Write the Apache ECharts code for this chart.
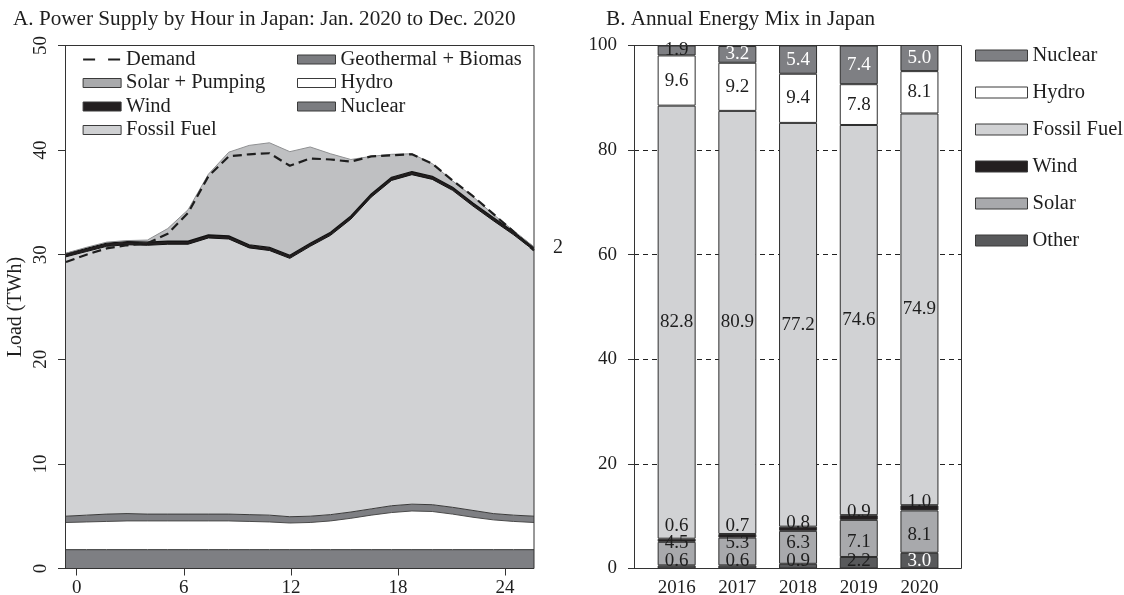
<!DOCTYPE html>
<html>
<head>
<meta charset="utf-8">
<script src="https://cdn.jsdelivr.net/npm/echarts@6/dist/echarts.min.js"></script>
<style>
  html, body { margin: 0; padding: 0; background: #fff; }
  #chart { width: 1124px; height: 595px; }
</style>
</head>
<body>
<div id="chart"></div>
<script>
// ---- Panel A: hourly power supply (TWh), 24 hourly slots ----
const hourSlots = ['1','2','3','4','5','6','7','8','9','10','11','12',
                   '13','14','15','16','17','18','19','20','21','22','23','24'];
const hourTicks = [0, 6, 12, 18, 24];
const loadTicks = [0, 10, 20, 30, 40, 50];

const nuclearHourly = [1.8,1.8,1.8,1.8,1.8,1.8,1.8,1.8,1.8,1.8,1.8,1.8,
                       1.8,1.8,1.8,1.8,1.8,1.8,1.8,1.8,1.8,1.8,1.8,1.8];
const hydroHourly   = [2.6,2.65,2.7,2.75,2.75,2.75,2.75,2.75,2.75,2.7,2.65,2.55,
                       2.6,2.75,3.0,3.3,3.55,3.7,3.65,3.4,3.1,2.85,2.7,2.6];
const geoBioHourly  = [0.6,0.65,0.7,0.7,0.65,0.65,0.65,0.65,0.65,0.65,0.65,0.6,
                       0.6,0.6,0.6,0.6,0.65,0.65,0.65,0.65,0.65,0.6,0.6,0.6];
const fossilHourly  = [24.8,25.2,25.6,25.7,25.7,25.8,25.8,26.4,26.3,25.5,25.3,24.7,
                       25.8,26.7,28.0,29.8,31.1,31.5,31.1,30.3,29.1,28.0,26.8,25.4];
const windHourly    = [0.3,0.3,0.3,0.3,0.3,0.3,0.3,0.3,0.3,0.3,0.3,0.3,
                       0.3,0.3,0.3,0.3,0.3,0.3,0.3,0.3,0.3,0.3,0.3,0.3];
const solarPumpHourly = [0.05,0.1,0.1,0.1,0.2,1.2,3.0,5.8,8.0,9.5,10.0,9.9,
                         9.2,7.5,5.4,3.6,2.2,1.7,1.2,0.6,0.6,0.3,0.1,0.05];
const demandHourly  = [29.3,30.0,30.6,30.9,31.1,32.0,34.0,37.5,39.4,39.6,39.7,38.5,
                       39.2,39.1,38.9,39.4,39.5,39.6,38.7,37.1,35.6,33.9,32.2,30.4];

// ---- Panel B: annual energy mix (%) ----
const years        = ['2016', '2017', '2018', '2019', '2020'];
const otherShare   = [0.6, 0.6, 0.9, 2.2, 3.0];
const solarShare   = [4.5, 5.3, 6.3, 7.1, 8.1];
const windShare    = [0.6, 0.7, 0.8, 0.9, 1.0];
const fossilShare  = [82.8, 80.9, 77.2, 74.6, 74.9];
const hydroShare   = [9.6, 9.2, 9.4, 7.8, 8.1];
const nuclearShare = [1.9, 3.2, 5.4, 7.4, 5.0];
const percentTicks = [0, 20, 40, 60, 80, 100];

// ---- layout ----
const FONT = 'Liberation Serif';
const INK = '#1e1e1e';
const A = { x0: 66, x1: 534, y0: 45.5, y1: 568.5 };
const B = { x0: 634, x1: 961, y0: 45.5, y1: 568.5 };
const BARS = { x0: 646.3, x1: 949.8 };
const W = 1124, H = 595;
const PCT_PX = (B.y1 - B.y0) / 100;

const COL = {
  nuclear: '#7e7f83', hydro: '#ffffff', geo: '#7e7f83', fossil: '#d1d2d4',
  wind: '#231f20', solarArea: '#bfc0c2', solarBar: '#a8a9ac', other: '#58595b'
};

function gridBox(b) {
  return { left: b.x0, top: b.y0, width: b.x1 - b.x0, height: b.y1 - b.y0,
           show: false, containLabel: false, outerBoundsMode: 'none' };
}

function areaLayer(name, values, fill, edge, edgeWidth) {
  return {
    type: 'line', name, data: values, xAxisIndex: 0, yAxisIndex: 0,
    stack: 'supply', symbol: 'none', silent: true, color: fill,
    lineStyle: { color: edge, width: edgeWidth },
    areaStyle: { color: fill, opacity: 1 }
  };
}

// keep the small bottom labels of each bar from piling on top of each other
function bottomLabelShifts(i) {
  const o = otherShare[i], s = solarShare[i], w = windShare[i];
  const oc = o / 2, sc = o + s / 2, wc = o + s + w / 2;
  const oy = Math.max(oc, 1.45);
  const sy = Math.max(sc - 0.6, oy + 3.45);
  const wy = Math.max(wc + 1.1, sy + 3.3);
  return { other: oy - oc, solar: sy - sc, wind: wy - wc };
}

function barLayer(name, key, values, fill, lightText) {
  return {
    type: 'bar', name, stack: 'mix', xAxisIndex: 3, yAxisIndex: 2,
    barWidth: 38, silent: true,
    itemStyle: { color: fill, borderColor: '#2e2e2e', borderWidth: 1 },
    label: {
      show: true, position: 'inside', fontFamily: FONT, fontSize: 19,
      textBorderWidth: 0, formatter: p => Number(p.value).toFixed(1)
    },
    data: values.map((v, i) => {
      const shift = key ? bottomLabelShifts(i)[key] : 0;
      return {
        value: v,
        label: {
          color: (lightText && v >= 3) ? '#ffffff' : INK,
          offset: [0, -shift * PCT_PX]
        }
      };
    })
  };
}

function legendBox(name, fill) {
  return { name, icon: 'rect', itemStyle: { color: fill, borderColor: '#3a3a3a', borderWidth: 1 } };
}

const legendText = { fontFamily: FONT, fontSize: 20.5, lineHeight: 20, color: INK };

const option = {
  animation: false,
  textStyle: { fontFamily: FONT, color: INK },
  title: [
    { text: 'A. Power Supply by Hour in Japan: Jan. 2020 to Dec. 2020', left: 13, top: 9, padding: 0,
      textStyle: { fontFamily: FONT, fontSize: 21.2, fontWeight: 'normal', color: INK } },
    { text: 'B. Annual Energy Mix in Japan', left: 606, top: 9, padding: 0,
      textStyle: { fontFamily: FONT, fontSize: 21.2, fontWeight: 'normal', color: INK } }
  ],
  legend: [
    { orient: 'vertical', left: 82, top: 49, padding: 0, itemWidth: 38, itemHeight: 9, itemGap: 2.5,
      selectedMode: false, textStyle: legendText,
      data: [
        { name: 'Demand', itemStyle: { opacity: 0, borderWidth: 0 },
          lineStyle: { type: [12, 13], width: 2.2, color: INK } },
        legendBox('Solar + Pumping', '#a9aaac'),
        legendBox('Wind', COL.wind),
        legendBox('Fossil Fuel', '#cfd0d2')
      ] },
    { orient: 'vertical', left: 297, top: 49, padding: 0, itemWidth: 38, itemHeight: 9, itemGap: 2.5,
      selectedMode: false, textStyle: legendText,
      data: [
        legendBox('Geothermal + Biomas', '#7b7c80'),
        legendBox('Hydro', '#ffffff'),
        legendBox('Nuclear', '#7b7c80')
      ] },
    { orient: 'vertical', left: 975, top: 45, padding: 0, itemWidth: 52, itemHeight: 11, itemGap: 16,
      selectedMode: false, textStyle: legendText,
      data: [
        legendBox('Nuclear', COL.nuclear),
        legendBox('Hydro', '#ffffff'),
        legendBox('Fossil Fuel', COL.fossil),
        legendBox('Wind', COL.wind),
        legendBox('Solar', COL.solarBar),
        legendBox('Other', COL.other)
      ] }
  ],
  grid: [gridBox(A), gridBox(B), gridBox({ x0: BARS.x0, x1: BARS.x1, y0: B.y0, y1: B.y1 })],
  xAxis: [
    { type: 'category', gridIndex: 0, data: hourSlots, boundaryGap: false, show: false, position: 'bottom' },
    { type: 'value', gridIndex: 0, min: -0.6, max: 25.62, position: 'bottom',
      axisLine: { show: false, onZero: false },
      splitLine: { show: false },
      axisTick: { show: true, length: 7, inside: false, customValues: hourTicks, lineStyle: { color: '#333' } },
      axisLabel: { customValues: hourTicks, fontFamily: FONT, fontSize: 19, color: INK, margin: 10 } },
    { type: 'value', gridIndex: 1, min: 0, max: 1, show: false },
    { type: 'category', gridIndex: 2, data: years, position: 'bottom',
      axisLine: { show: false }, axisTick: { show: false },
      axisLabel: { fontFamily: FONT, fontSize: 19, color: INK, margin: 10 } }
  ],
  yAxis: [
    { type: 'value', gridIndex: 0, min: 0, max: 50, interval: 10, position: 'left',
      name: 'Load (TWh)', nameLocation: 'middle', nameGap: 40, nameRotate: 90,
      nameTextStyle: { fontFamily: FONT, fontSize: 20, color: INK },
      axisLine: { show: false, onZero: false }, splitLine: { show: false },
      axisTick: { show: true, length: 8, customValues: loadTicks, lineStyle: { color: '#333' } },
      axisLabel: { rotate: 90, fontFamily: FONT, fontSize: 19, color: INK, margin: 15,
                   customValues: loadTicks } },
    { type: 'value', gridIndex: 1, min: 0, max: 100, interval: 20, position: 'left',
      axisLine: { show: false, onZero: false },
      splitLine: { show: true, lineStyle: { type: [5, 4], color: '#222', width: 1 } },
      axisTick: { show: true, length: 6, customValues: percentTicks, lineStyle: { color: '#333' } },
      axisLabel: { fontFamily: FONT, fontSize: 19, color: INK, margin: 17, customValues: percentTicks } },
    { type: 'value', gridIndex: 2, min: 0, max: 100, show: false }
  ],
  series: [
    areaLayer('Nuclear', nuclearHourly, COL.nuclear, '#2e2e2e', 1),
    areaLayer('Hydro', hydroHourly, COL.hydro, '#4a4a4a', 1),
    areaLayer('Geothermal + Biomas', geoBioHourly, COL.geo, '#3a3a3a', 1),
    areaLayer('Fossil Fuel', fossilHourly, COL.fossil, '#111', 1),
    areaLayer('Wind', windHourly, COL.wind, '#111', 1.2),
    areaLayer('Solar + Pumping', solarPumpHourly, COL.solarArea, '#8e8f91', 1),
    { type: 'line', name: 'Demand', data: demandHourly, xAxisIndex: 0, yAxisIndex: 0,
      symbol: 'none', silent: true, z: 5, color: INK,
      lineStyle: { type: [9, 5], width: 2.2, color: INK } },

    barLayer('Other', 'other', otherShare, COL.other, true),
    barLayer('Solar', 'solar', solarShare, COL.solarBar, false),
    barLayer('Wind', 'wind', windShare, COL.wind, false),
    barLayer('Fossil Fuel', null, fossilShare, COL.fossil, false),
    barLayer('Hydro', null, hydroShare, COL.hydro, false),
    barLayer('Nuclear', null, nuclearShare, COL.nuclear, true)
  ],
  graphic: [
    { type: 'rect', z: 100, silent: true,
      shape: { x: A.x0 - 0.5, y: A.y0, width: A.x1 - A.x0 + 0.5, height: A.y1 - A.y0 },
      style: { fill: 'none', stroke: '#333', lineWidth: 1 } },
    { type: 'rect', z: 100, silent: true,
      shape: { x: B.x0 + 0.5, y: B.y0, width: B.x1 - B.x0, height: B.y1 - B.y0 },
      style: { fill: 'none', stroke: '#333', lineWidth: 1 } },
    { type: 'text', z: 100, silent: true, left: 553, top: 238,
      style: { text: '2', font: '20px ' + FONT, fill: INK } }
  ]
};

const chart = echarts.init(document.getElementById('chart'), null, { renderer: 'canvas', width: W, height: H });
chart.setOption(option);
</script>
</body>
</html>
